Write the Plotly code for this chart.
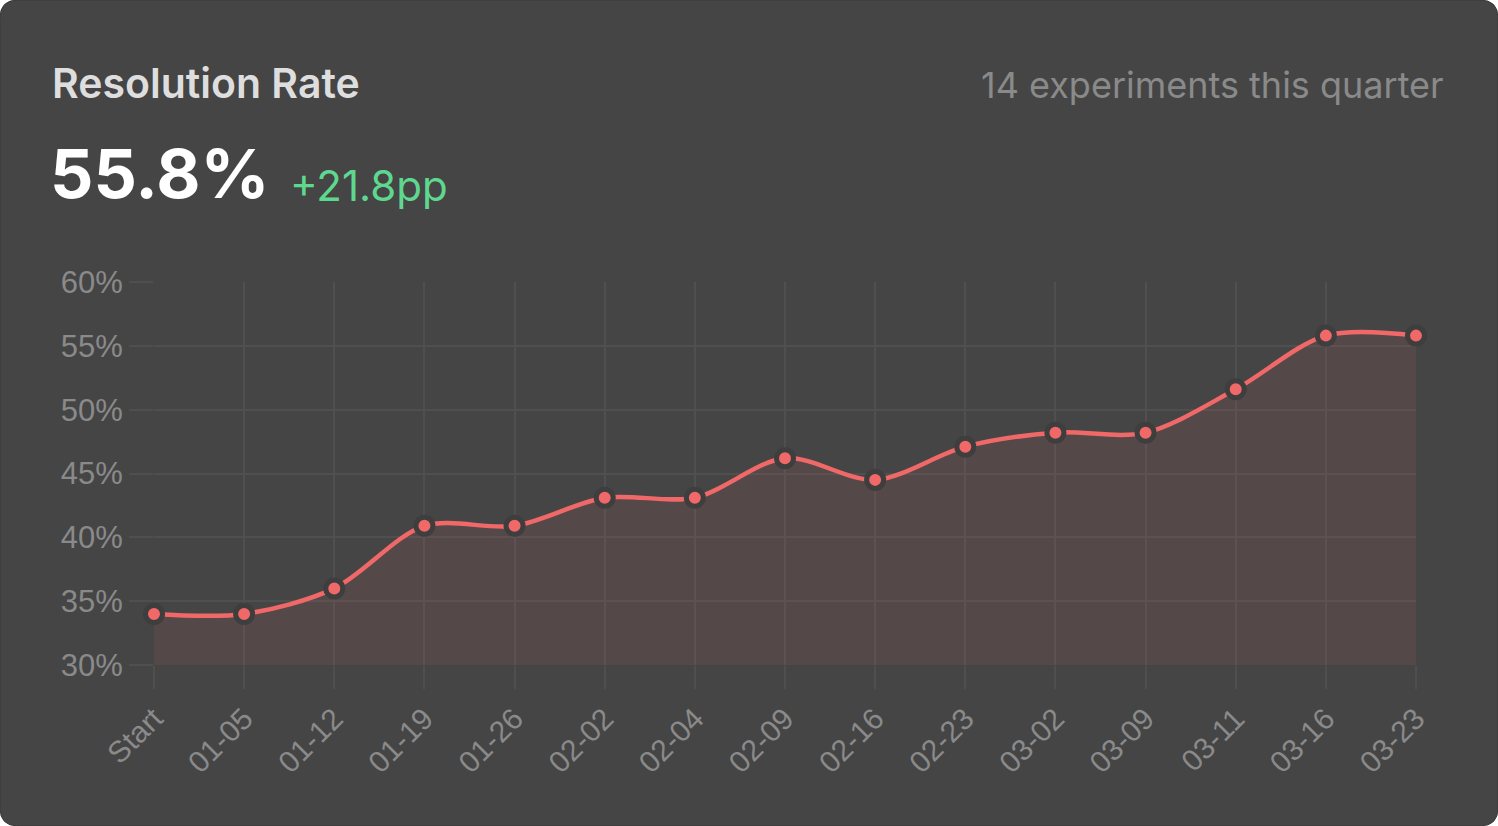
import plotly.graph_objects as go

# dados do grafico
semanas = ["Start", "01-05", "01-12", "01-19", "01-26", "02-02", "02-04", "02-09",
           "02-16", "02-23", "03-02", "03-09", "03-11", "03-16", "03-23"]
taxa = [34.0, 34.0, 36.0, 40.9, 40.9, 43.1, 43.1, 46.2, 44.5, 47.1, 48.2, 48.2, 51.6, 55.8, 55.8]
ticks_y = [30, 35, 40, 45, 50, 55, 60]
titulo = "Resolution Rate"
valor_atual = "55.8%"
variacao = "+21.8pp"
subtitulo = "14 experiments this quarter"

W, H = 1498, 826
# area do grafico em pixels
L, R, T, B = 154, 1416, 282, 665
fundo = "#454545"
grade = "#4f4f4f"
cor = "#f06868"
cinza = "#8a8a8a"


def px(x, y):
    # pixel -> coordenada paper (relativa a area do grafico)
    return (x - L) / (R - L), (B - y) / (B - T)


fig = go.Figure()
fig.add_trace(go.Scatter(
    x=semanas, y=taxa, mode="lines+markers",
    line=dict(color=cor, width=4.5, shape="spline", smoothing=0.9),
    marker=dict(color=cor, size=17, line=dict(color="#3e3e3e", width=5)),
    fill="tozeroy", fillcolor="rgba(240,104,104,0.10)",
    hoverinfo="skip", showlegend=False, cliponaxis=False,
))

# cartao com cantos arredondados
r = 18
pts = {
    "a": px(r, 0), "b": px(W - r, 0), "c": px(W, 0), "d": px(W, r),
    "e": px(W, H - r), "f": px(W, H), "g": px(W - r, H), "h": px(r, H),
    "i": px(0, H), "j": px(0, H - r), "k": px(0, r), "l": px(0, 0),
}
p = {k: f"{v[0]:.5f},{v[1]:.5f}" for k, v in pts.items()}
cartao = (f"M {p['a']} L {p['b']} Q {p['c']} {p['d']} L {p['e']} Q {p['f']} {p['g']} "
          f"L {p['h']} Q {p['i']} {p['j']} L {p['k']} Q {p['l']} {p['a']} Z")
fig.add_shape(type="path", path=cartao, xref="paper", yref="paper", layer="below",
              fillcolor=fundo, line=dict(color="#3a3a3a", width=1))

fx, fy = px(50, 83)
fig.add_annotation(text=titulo, x=fx, y=fy, xref="paper", yref="paper",
                   xanchor="left", yanchor="middle", showarrow=False,
                   font=dict(family="Inter", size=41, color="#dedede", weight=600))
fx, fy = px(48, 173)
fig.add_annotation(text=valor_atual, x=fx, y=fy, xref="paper", yref="paper",
                   xanchor="left", yanchor="middle", showarrow=False,
                   font=dict(family="Inter", size=68, color="#ffffff", weight=700))
fx, fy = px(288, 185)
fig.add_annotation(text=variacao, x=fx, y=fy, xref="paper", yref="paper",
                   xanchor="left", yanchor="middle", showarrow=False,
                   font=dict(family="Inter", size=42, color="#5fd88f"))
fx, fy = px(1446, 85)
fig.add_annotation(text=subtitulo, x=fx, y=fy, xref="paper", yref="paper",
                   xanchor="right", yanchor="middle", showarrow=False,
                   font=dict(family="Inter", size=36, color=cinza))

fig.update_xaxes(
    type="category", range=[0, len(semanas) - 1], showgrid=True, gridcolor=grade, gridwidth=2,
    ticks="outside", ticklen=23, tickcolor=grade, tickwidth=2, tickangle=-45,
    showline=False, zeroline=False, fixedrange=True,
    tickfont=dict(family="Liberation Sans", size=30, color=cinza),
)
fig.update_yaxes(
    range=[30, 60], tickvals=ticks_y, ticktext=[f"{v}%" for v in ticks_y],
    showgrid=True, gridcolor=grade, gridwidth=2, zeroline=False, showline=False,
    ticks="outside", ticklen=24, tickcolor=grade, tickwidth=2, fixedrange=True,
    tickfont=dict(family="Liberation Sans", size=31, color=cinza),
)

fig.update_layout(
    width=W, height=H, paper_bgcolor="#ffffff", plot_bgcolor=fundo,
    margin=dict(l=L, r=W - R, t=T, b=H - B, autoexpand=False),
)

fig.write_html("out.html", config={"displayModeBar": False},
               post_script="document.body.style.margin='0';")
